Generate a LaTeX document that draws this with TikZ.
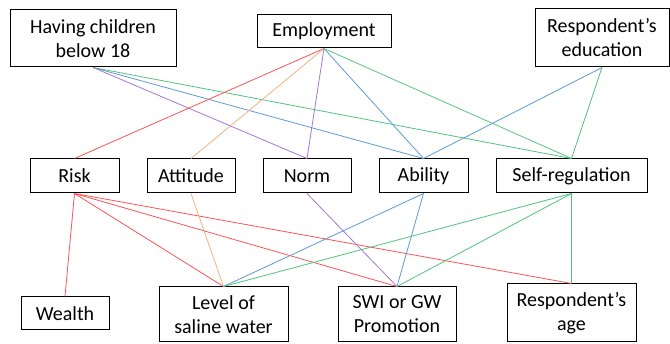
\documentclass[tikz,border=0pt]{standalone}
\usepackage{fontspec}
\setmainfont{Carlito}
\definecolor{lred}{RGB}{250,85,85}
\definecolor{lorange}{RGB}{244,177,131}
\definecolor{lpurple}{RGB}{165,120,210}
\definecolor{lblue}{RGB}{91,155,213}
\definecolor{lgreen}{RGB}{80,195,125}
\begin{document}
\begin{tikzpicture}[x=1pt,y=-1pt,
  box/.style={draw,line width=1pt,align=center,inner sep=0pt,
    font=\fontsize{20}{24}\selectfont},
  link/.style={line width=0.8pt}]
\useasboundingbox (0,0) rectangle (670,344);
% top row
\node[box,minimum width=166,minimum height=57] (kids) at (93,38.5) {Having children\\below 18};
\node[box,minimum width=134,minimum height=33] (empl) at (324,31.5) {Employment};
\node[box,minimum width=134,minimum height=58] (edu) at (602,38) {Respondent’s\\education};
% middle row
\node[box,minimum width=89,minimum height=34] (risk) at (74.5,176) {Risk};
\node[box,minimum width=88,minimum height=34] (att) at (191,176) {Attitude};
\node[box,minimum width=88,minimum height=34] (norm) at (307,176) {Norm};
\node[box,minimum width=89,minimum height=34] (abil) at (423.5,176) {Ability};
\node[box,minimum width=151,minimum height=34] (selfreg) at (571.5,176) {Self-regulation};
% bottom row
\node[box,minimum width=88,minimum height=33] (wealth) at (65,313.5) {Wealth};
\node[box,minimum width=129,minimum height=55] (saline) at (223.5,314.5) {Level of\\saline water};
\node[box,minimum width=118,minimum height=55] (swi) at (397,314.5) {SWI or GW\\Promotion};
\node[box,minimum width=129,minimum height=58] (age) at (571.5,313) {Respondent’s\\age};
%
\draw[link,lgreen] (kids.south) -- (selfreg.north);
\draw[link,lblue] (kids.south) -- (abil.north);
\draw[link,lpurple] (kids.south) -- (norm.north);
\draw[link,lred] (empl.south) -- (risk.north);
\draw[link,lorange] (empl.south) -- (att.north);
\draw[link,lpurple] (empl.south) -- (norm.north);
\draw[link,lblue] (empl.south) -- (abil.north);
\draw[link,lgreen] (empl.south) -- (selfreg.north);
\draw[link,lblue] (edu.south) -- (abil.north);
\draw[link,lgreen] (edu.south) -- (selfreg.north);
%
\draw[link,lred] (risk.south) -- (wealth.north);
\draw[link,lred] (risk.south) -- (saline.north);
\draw[link,lred] (risk.south) -- (swi.north);
\draw[link,lred] (risk.south) -- (age.north);
\draw[link,lorange] (att.south) -- (saline.north);
\draw[link,lpurple] (norm.south) -- (swi.north);
\draw[link,lblue] (abil.south) -- (saline.north);
\draw[link,lblue] (abil.south) -- (swi.north);
\draw[link,lgreen] (selfreg.south) -- (saline.north);
\draw[link,lgreen] (selfreg.south) -- (swi.north);
\draw[link,lgreen] (selfreg.south) -- (age.north);
\end{tikzpicture}
\end{document}
